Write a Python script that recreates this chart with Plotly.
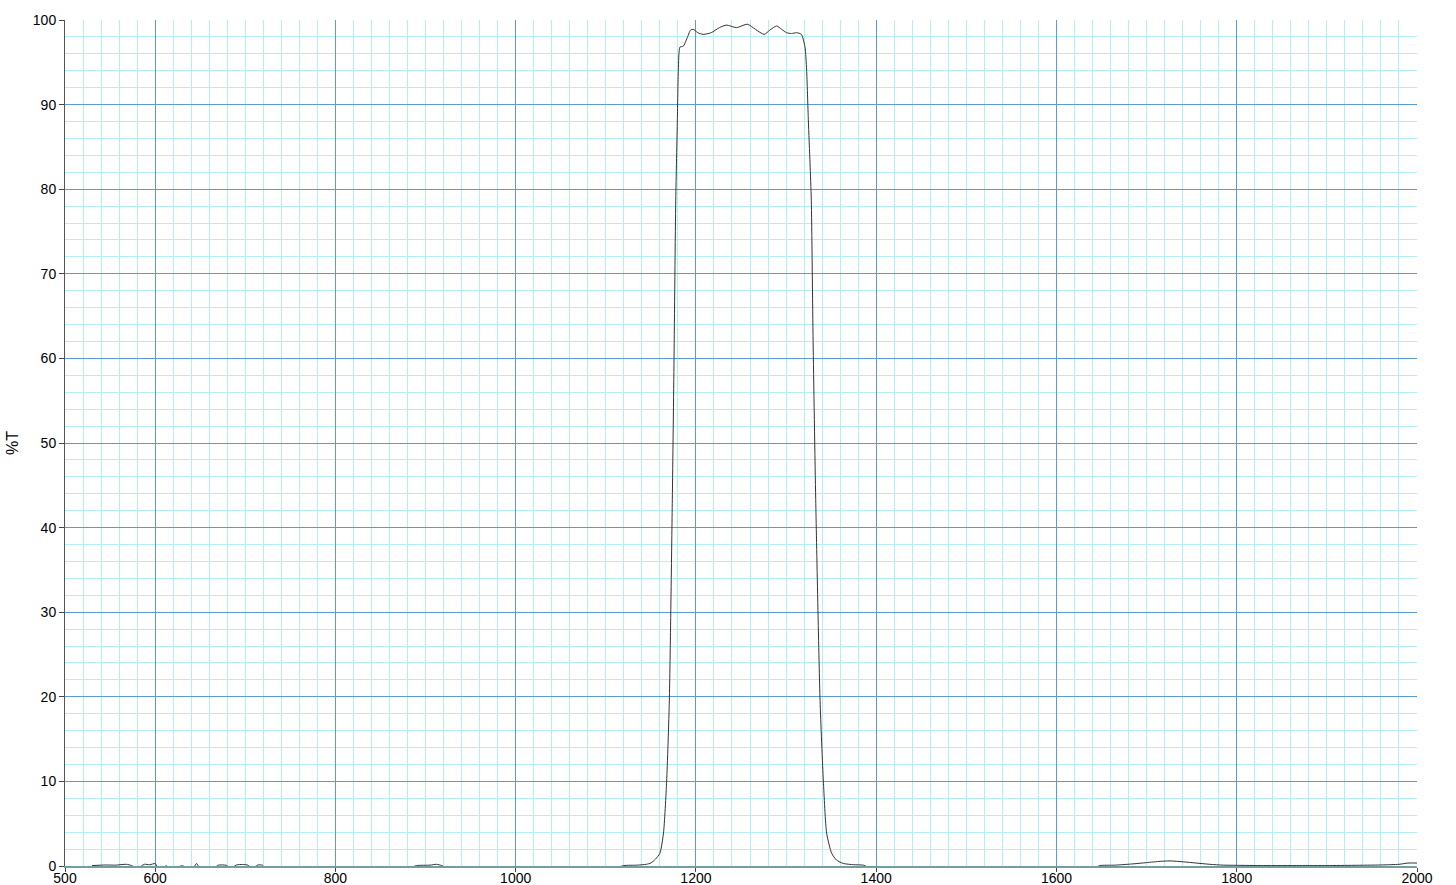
import plotly.graph_objects as go

# wavelength (nm) and transmission (%T)
wavelength = [
    530, 545, 556, 568, 574, 580, 588, 594, 600, 604, 613, 616, 631, 634,
    643, 646, 650, 666, 670, 679, 684, 690, 697, 703, 707, 714, 719, 723,
    880, 890, 905, 912, 918, 925,
    1110, 1120, 1135, 1145, 1150, 1155, 1160, 1164, 1167.5, 1170.5, 1173.8,
    1175.7, 1177.6, 1179.4, 1180.5, 1182.3, 1186, 1190, 1194, 1197, 1202,
    1208, 1217, 1226, 1234, 1245, 1257, 1266, 1275.6, 1282, 1289.6, 1295,
    1300.7, 1306, 1311.8, 1317, 1321, 1322.8, 1324.7, 1326.6, 1328, 1330,
    1332.9, 1337.7, 1341.4, 1345, 1350.6, 1356, 1363.5, 1375, 1385.7, 1395,
    1640, 1648, 1665, 1685, 1700, 1715, 1726, 1740, 1755, 1770, 1785, 1800,
    1830, 1870, 1900, 1930, 1960, 1980, 1990, 2000,
]
transmission = [
    0.05, 0.12, 0.1, 0.2, 0.05, -0.3, 0.2, 0.15, 0.28, -0.3, 0.02, -0.3, 0.02, -0.3,
    -0.1, 0.3, -0.3, -0.2, 0.1, 0.08, -0.3, 0.12, 0.18, 0.1, -0.3, 0.12, 0.1, -0.3,
    -0.3, 0.05, 0.1, 0.2, 0.05, -0.3,
    -0.3, 0.05, 0.1, 0.2, 0.35, 0.8, 1.5, 3.9, 10, 19.6, 43.3,
    60, 78.7, 88.2, 94.1, 96.8, 96.9, 97.8, 98.8, 98.9, 98.5,
    98.3, 98.5, 99.1, 99.4, 99.1, 99.5, 98.9, 98.3, 98.8, 99.3, 98.9,
    98.5, 98.4, 98.5, 98.3, 96.8, 94.1, 88.2, 83, 78.7, 62,
    43.3, 19.6, 10, 3.9, 1.5, 0.7, 0.3, 0.15, 0.1, -0.3,
    -0.3, 0.05, 0.1, 0.25, 0.4, 0.55, 0.6, 0.5, 0.35, 0.2, 0.1, 0.08,
    0.05, 0.05, 0.05, 0.08, 0.12, 0.2, 0.35, 0.35,
]

x_ticks = [500, 600, 800, 1000, 1200, 1400, 1600, 1800, 2000]
y_ticks = [0, 10, 20, 30, 40, 50, 60, 70, 80, 90, 100]

major = "#5b9bd5"
minor = "#b4f0f2"

fig = go.Figure()
fig.add_trace(go.Scatter(
    x=wavelength, y=transmission, mode="lines",
    line=dict(color="#333333", width=1, shape="spline", smoothing=0.6),
    showlegend=False,
))

fig.update_xaxes(
    range=[500, 2000], tickmode="array", tickvals=x_ticks,
    showgrid=True, gridcolor=major, gridwidth=1,
    minor=dict(tick0=500, dtick=20, showgrid=True, gridcolor=minor, gridwidth=1, ticks=""),
    showline=True, linecolor="#6f9fa0", linewidth=2,
    ticks="outside", ticklen=4, tickcolor="#444444",
    ticklabelstandoff=-6,
    zeroline=False, automargin=False,
    tickfont=dict(family="Liberation Sans, Arial", size=14, color="#000000"),
)
fig.update_yaxes(
    range=[0, 100], tickmode="array", tickvals=y_ticks,
    showgrid=True, gridcolor=major, gridwidth=1,
    minor=dict(tick0=0, dtick=2, showgrid=True, gridcolor=minor, gridwidth=1, ticks=""),
    showline=True, linecolor="#555555", linewidth=1,
    ticks="outside", ticklen=5, tickcolor="#444444",
    zeroline=False, automargin=False,
    tickfont=dict(family="Liberation Sans, Arial", size=14, color="#000000"),
    title=dict(text="%T", standoff=10,
               font=dict(family="Liberation Sans, Arial", size=16, color="#000000")),
)

fig.update_layout(
    width=1456, height=885,
    margin=dict(l=65, r=39, t=20, b=19),
    plot_bgcolor="white", paper_bgcolor="white",
)

fig.write_html("out.html", config={"displayModeBar": False},
               post_script="document.body.style.margin='0px';")
